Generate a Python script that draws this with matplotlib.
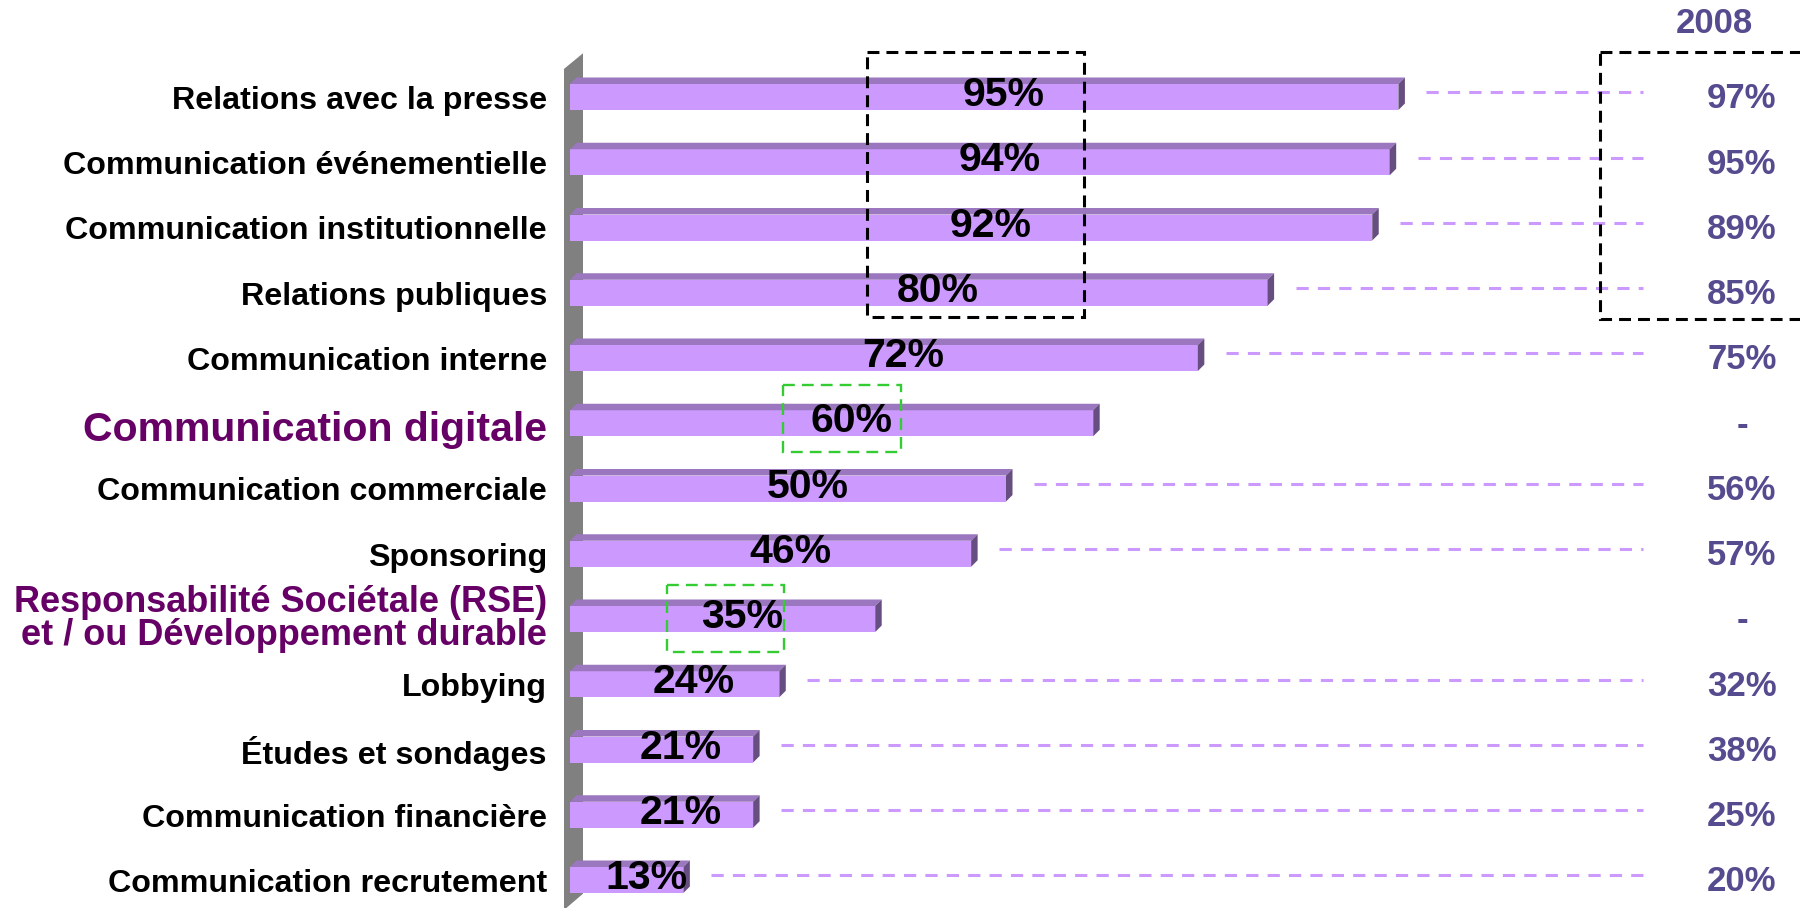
import matplotlib
matplotlib.use("Agg")
import matplotlib.pyplot as plt
from matplotlib.patches import Polygon, Rectangle

plt.rcParams['font.family'] = ['Liberation Sans', 'DejaVu Sans']
plt.rcParams['font.weight'] = 'bold'

# ---- data ----
categories = [
    "Relations avec la presse",
    "Communication événementielle",
    "Communication institutionnelle",
    "Relations publiques",
    "Communication interne",
    "Communication digitale",
    "Communication commerciale",
    "Sponsoring",
    "Responsabilité Sociétale (RSE)\net / ou Développement durable",
    "Lobbying",
    "Études et sondages",
    "Communication financière",
    "Communication recrutement",
]
values_current = [95, 94, 92, 80, 72, 60, 50, 46, 35, 24, 21, 21, 13]
values_2008 = [97, 95, 89, 85, 75, None, 56, 57, None, 32, 38, 25, 20]
highlighted = ["Communication digitale",
               "Responsabilité Sociétale (RSE)\net / ou Développement durable"]
column_title = "2008"

# ---- colours ----
FRONT = "#CC99FF"
TOP = "#9B77BF"
SIDE = "#664F80"
WALL = "#808080"
HILITE = "#660066"
RIGHT_COL = "#554B8F"
GUIDE = "#CC99FF"

W, H = 1800, 908
fig = plt.figure(figsize=(W / 100, H / 100), dpi=100)
ax = fig.add_axes([0, 0, 1, 1])
ax.axis("off")

# x: percent scale, bar origin at 570 px, 8.72 px per percent
px_per_pct = 8.72
x0_px = 570
ax.set_xlim(-x0_px / px_per_pct, (W - x0_px) / px_per_pct)
# y: category index, first bar centred 97 px from top, 65.25 px spacing
row_px = 65.25
first_px = 97
ax.set_ylim((H - first_px) / row_px, -first_px / row_px)

n = len(categories)
rows = list(range(n))
bar_h = 26 / row_px

# depth of the 3-D extrusion, in data units
dx = 6.5 / px_per_pct
dy = 6.5 / row_px

# back wall
ax.add_patch(Polygon([(-0.69, -0.43), (1.49, -0.67), (1.49, 12.21), (-0.69, 12.46)],
                     closed=True, facecolor=WALL, edgecolor="none", zorder=1))

# front faces of the bars
ax.barh(rows, values_current, height=bar_h, left=0, color=FRONT,
        edgecolor="none", zorder=3)

# top and side faces
for i, v in zip(rows, values_current):
    top_y = i - bar_h / 2
    bot_y = i + bar_h / 2
    ax.add_patch(Polygon([(0, top_y), (dx, top_y - dy), (v + dx, top_y - dy), (v, top_y)],
                         closed=True, facecolor=TOP, edgecolor="none", zorder=3))
    ax.add_patch(Polygon([(v, top_y), (v + dx, top_y - dy), (v + dx, bot_y - dy), (v, bot_y)],
                         closed=True, facecolor=SIDE, edgecolor="none", zorder=3))

# value labels on the bars
for i, v in zip(rows, values_current):
    ax.annotate(f"{v}%", xy=(v / 2, i - 0.03), xytext=(14, 0),
                textcoords="offset points", ha="center", va="center",
                fontsize=29.5, fontweight="bold", color="black", zorder=5)

# category labels
label_x = -2.64
for i, c in zip(rows, categories):
    y = i + 0.06
    if c == highlighted[0]:
        ax.text(label_x, y + 0.04, c, ha="right", va="center", fontsize=29.5,
                fontweight="bold", color=HILITE)
    elif c == highlighted[1]:
        ax.text(label_x, i, c, ha="right", va="center", fontsize=26,
                fontweight="bold", color=HILITE, linespacing=0.95)
    else:
        ax.text(label_x, y, c, ha="right", va="center", fontsize=23.2,
                fontweight="bold", color="black")

# guide lines and 2008 values
guide_end = 123.0
right_x = 134.4
for i, v, old in zip(rows, values_current, values_2008):
    if old is not None:
        ax.plot([v + 3.2, guide_end], [i - 0.07, i - 0.07], color=GUIDE,
                lw=2.2, linestyle=(0, (4.0, 3.0)), zorder=2, solid_capstyle="butt")
        txt = f"{old}%"
    else:
        txt = "-"
    ax.text(right_x, i + 0.03, txt, ha="center", va="center", fontsize=25,
            fontweight="bold", color=RIGHT_COL)

ax.text(131.2, -1.13, column_title, ha="center", va="center", fontsize=25,
        fontweight="bold", color=RIGHT_COL)

# highlight frames
def frame(x1, x2, y1, y2, color, lw, dash):
    ax.add_patch(Rectangle((x1, y1), x2 - x1, y2 - y1, fill=False, edgecolor=color,
                           lw=lw, linestyle=(0, dash), zorder=6, clip_on=False))

frame(34.06, 58.94, -0.69, 3.37, "black", 2.2, (3.9, 2.3))
frame(118.1, 143.0, -0.69, 3.40, "black", 2.2, (3.9, 2.3))
frame(24.4, 37.96, 4.41, 5.44, "#33CC33", 1.7, (5.0, 3.0))
frame(11.1, 24.5, 7.48, 8.51, "#33CC33", 1.7, (5.0, 3.0))

fig.savefig("out.png", dpi=100)
